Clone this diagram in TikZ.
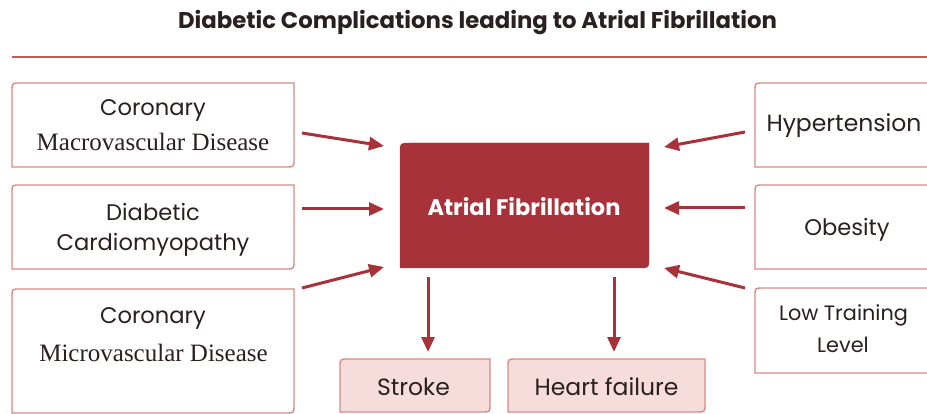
\documentclass[tikz,border=0pt]{standalone}
\usepackage{fontspec}
\setmainfont{Poppins}
\newfontfamily\serifx{Liberation Serif}
\usetikzlibrary{arrows.meta}
\definecolor{afred}{HTML}{A8323A}
\definecolor{boxedge}{HTML}{D98A82}
\definecolor{pinkfill}{HTML}{F6DCDA}
\definecolor{txt}{HTML}{2A2020}
\definecolor{rule}{HTML}{C85A50}
\newcommand\oddbox[3][8pt]{%
  \draw[#2] ([yshift=-#1]#3.north west) .. controls (#3.north west) .. ([xshift=#1]#3.north west)
    -- (#3.north east) -- ([yshift=#1]#3.south east) .. controls (#3.south east) .. ([xshift=-#1]#3.south east)
    -- (#3.south west) -- cycle;}
\begin{document}
\begin{tikzpicture}[x=1pt,y=-1pt,
  shell/.style={inner sep=0pt, outer sep=0pt},
  edgeline/.style={draw=boxedge, line width=1.4pt, fill=white},
  outline/.style={draw=boxedge, line width=1.4pt, fill=pinkfill},
  mainline/.style={draw=afred, fill=afred},
  lbl/.style={text=txt, font=\fontsize{22.6}{26}\selectfont, align=center, inner sep=0pt},
  slbl/.style={text=txt, font=\serifx\fontsize{25}{26}\selectfont, inner sep=0pt},
  arr/.style={draw=afred, line width=3pt, -{Triangle[length=15pt,width=13pt]}}]
\useasboundingbox (0,0) rectangle (927,414);
\fill[white] (0,0) rectangle (927,414);
% title
\node[text=txt, font=\bfseries\fontsize{22.8}{26}\selectfont, inner sep=0pt] (title) at (477.5,23) {Diabetic Complications leading to Atrial Fibrillation};
\coordinate (ruleL) at (12,57);
\coordinate (ruleR) at (927,57);
\draw[rule, line width=2.4pt] (ruleL) -- (ruleR);
% left boxes
\node[shell, minimum width=282pt, minimum height=84pt] (l1) at (153,125) {};
\node[shell, minimum width=282pt, minimum height=84pt] (l2) at (153,227) {};
\node[shell, minimum width=282pt, minimum height=124pt] (l3) at (153,351) {};
\oddbox{edgeline}{l1}
\oddbox{edgeline}{l2}
\oddbox{edgeline}{l3}
\node[lbl] (l1a) at (153,110) {Coronary};
\node[slbl] (l1b) at (153,142) {Macrovascular Disease};
\node[lbl] (l2a) at (153,212) {Diabetic};
\node[lbl] (l2b) at (153,245) {Cardiomyopathy};
\node[lbl] (l3a) at (153,318) {Coronary};
\node[slbl] (l3b) at (153.5,353) {Microvascular Disease};
% right boxes
\node[shell, minimum width=180pt, minimum height=84pt] (r1) at (845,125) {};
\node[shell, minimum width=180pt, minimum height=84pt] (r2) at (845,227) {};
\node[shell, minimum width=180pt, minimum height=85pt] (r3) at (845,330.5) {};
\oddbox{edgeline}{r1}
\oddbox{edgeline}{r2}
\oddbox{edgeline}{r3}
\node[lbl, font=\fontsize{23.5}{26}\selectfont] (r1a) at (844,126) {Hypertension};
\node[lbl] (r2a) at (847,230) {Obesity};
\node[lbl, font=\fontsize{20.8}{24}\selectfont] (r3a) at (843.5,315) {Low Training};
\node[lbl, font=\fontsize{20.8}{24}\selectfont] (r3b) at (843,345) {Level};
% centre
\node[shell, minimum width=249pt, minimum height=125pt] (af) at (524.5,205.5) {};
\oddbox[10pt]{mainline}{af}
\node[text=white, font=\bfseries\fontsize{22.5}{26}\selectfont, inner sep=0pt] (aft) at (524,207) {Atrial Fibrillation};
% outcomes
\node[shell, minimum width=150pt, minimum height=53pt] (st) at (415,385.5) {};
\node[shell, minimum width=197pt, minimum height=53pt] (hf) at (606.5,385.5) {};
\oddbox{outline}{st}
\oddbox{outline}{hf}
\node[lbl, font=\fontsize{23.5}{26}\selectfont] (stt) at (413.5,387) {Stroke};
\node[lbl, font=\fontsize{23.5}{26}\selectfont] (hft) at (606.5,387) {Heart failure};
% arrow coordinates
\coordinate (a1s) at (302,133); \coordinate (a1e) at (384,146);
\coordinate (a2s) at (302,209); \coordinate (a2e) at (384,209);
\coordinate (a3s) at (302,288); \coordinate (a3e) at (384,267);
\coordinate (b1s) at (745,132); \coordinate (b1e) at (664,147);
\coordinate (b2s) at (745,208); \coordinate (b2e) at (664,208);
\coordinate (b3s) at (745,288); \coordinate (b3e) at (664,268);
\coordinate (d1s) at (428,277); \coordinate (d1e) at (428,352);
\coordinate (d2s) at (614,277); \coordinate (d2e) at (614,352);
\draw[arr] (a1s) -- (a1e);
\draw[arr] (a2s) -- (a2e);
\draw[arr] (a3s) -- (a3e);
\draw[arr] (b1s) -- (b1e);
\draw[arr] (b2s) -- (b2e);
\draw[arr] (b3s) -- (b3e);
\draw[arr] (d1s) -- (d1e);
\draw[arr] (d2s) -- (d2e);
\end{tikzpicture}
\end{document}
